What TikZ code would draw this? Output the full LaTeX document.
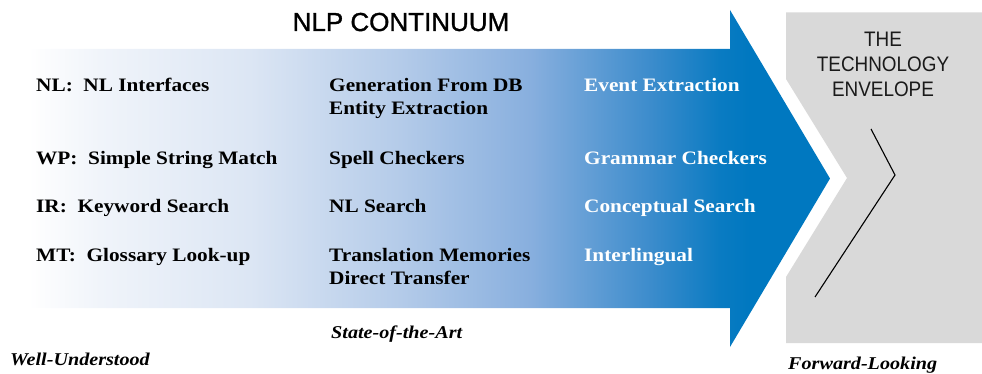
\documentclass[tikz,border=0pt]{standalone}
\usepackage{fontspec}
\setmainfont{Liberation Serif}
\newfontfamily\itemfont{Liberation Serif}[FakeStretch=1.12]
\newfontfamily\headfont{Liberation Sans}[FakeBold=1.2]
\newfontfamily\envfont{Liberation Sans}[FakeStretch=0.9]

\definecolor{arrowblue}{HTML}{0078C0}
\definecolor{gA}{HTML}{F0F4FA}
\definecolor{gB}{HTML}{DCE6F4}
\definecolor{gC}{HTML}{B4CBE9}
\definecolor{gD}{HTML}{88AFDE}
\definecolor{gE}{HTML}{3C8CCC}
\definecolor{gF}{HTML}{0A7BC2}
\definecolor{envgray}{HTML}{D9D9D9}
\definecolor{envtext}{HTML}{1A1A1A}

% white on the left, deep blue at the arrow head
\pgfdeclarehorizontalshading{continuum}{100bp}{%
  color(0bp)=(white); color(25bp)=(white); color(29.5bp)=(gA);
  color(38.8bp)=(gB); color(48.2bp)=(gC); color(56.3bp)=(gD);
  color(63.8bp)=(gE); color(68.1bp)=(gF); color(70bp)=(arrowblue);
  color(100bp)=(arrowblue)}

\begin{document}
\begin{tikzpicture}[x=1pt, y=-1pt,
  item/.style={anchor=base west, inner sep=0pt,
    font=\itemfont\bfseries\fontsize{19}{19}\selectfont},
  lightitem/.style={item, text=white},
  level/.style={anchor=base west, inner sep=0pt,
    font=\itemfont\bfseries\itshape\fontsize{18}{18}\selectfont},
  envline/.style={anchor=base, inner sep=0pt, text=envtext,
    font=\envfont\fontsize{21}{21}\selectfont}]

\useasboundingbox (0,0) rectangle (982,374);

% the continuum arrow
\shade[shading=continuum]
  (28,49) -- (730,49) -- (730,10) -- (830,178.5) -- (730,347)
  -- (730,308) -- (28,308) -- cycle;

% the technology envelope with its notch
\fill[envgray] (786,12.5) -- (982,12.5) -- (982,343) -- (786,343)
  -- (786,277) -- (847,178) -- (786,79) -- cycle;
\draw[line width=1.1pt, line join=miter] (871,129) -- (895,175) -- (815,297);

% titles
\node[anchor=base, inner sep=0pt, font=\headfont\fontsize{26}{26}\selectfont]
  (title) at (401,31) {NLP CONTINUUM};
\node[envline] (envA) at (883,47) {THE};
\node[envline] (envB) at (883,72) {TECHNOLOGY};
\node[envline] (envC) at (883,97) {ENVELOPE};

% well-understood column
\node[item] (nl) at (36,91.5) {NL:\ \ NL Interfaces};
\node[item] (wp) at (36,164.5) {WP:\ \ Simple String Match};
\node[item] (ir) at (36,212.5) {IR:\ \ Keyword Search};
\node[item] (mt) at (36,261) {MT:\ \ Glossary Look-up};

% state-of-the-art column
\node[item] (gen) at (329,91.5) {Generation From DB};
\node[item] (ent) at (329,114.5) {Entity Extraction};
\node[item] (spell) at (329,164.5) {Spell Checkers};
\node[item] (nls) at (329,212.5) {NL Search};
\node[item] (tm) at (329,261) {Translation Memories};
\node[item] (dt) at (329,284) {Direct Transfer};

% forward-looking column
\node[lightitem] (event) at (584,91.5) {Event Extraction};
\node[lightitem] (gram) at (584,164.5) {Grammar Checkers};
\node[lightitem] (concept) at (584,212.5) {Conceptual Search};
\node[lightitem] (inter) at (584,261) {Interlingual};

% levels along the continuum
\node[level] (well) at (10,365) {Well-Understood};
\node[level] (state) at (331,338) {State-of-the-Art};
\node[level] (fwd) at (788,369) {Forward-Looking};
\end{tikzpicture}
\end{document}
